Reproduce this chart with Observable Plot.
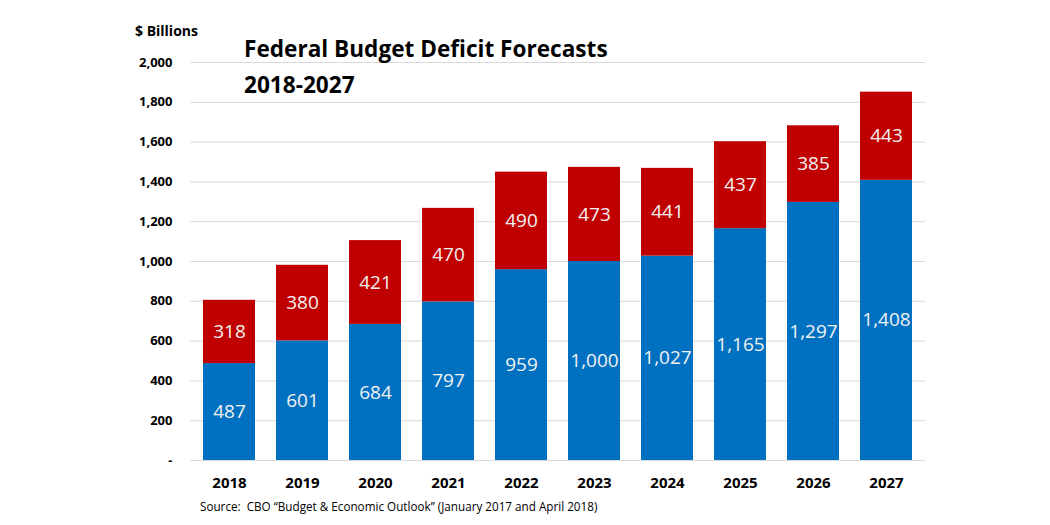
<!DOCTYPE html>
<html><head><meta charset="utf-8">
<script src="https://cdn.jsdelivr.net/npm/d3@7"></script>
<script src="https://cdn.jsdelivr.net/npm/@observablehq/plot@0.6"></script>
<style>
body{margin:0;background:#fff;font-family:"Open Sans",sans-serif;}
#wrap{position:relative;width:1050px;height:525px;}
.ov{position:absolute;color:#000;white-space:nowrap;}
</style></head><body>
<div id="wrap"></div>
<script>
const years = ["2018","2019","2020","2021","2022","2023","2024","2025","2026","2027"];
const baseline = [487,601,684,797,959,1000,1027,1165,1297,1408];
const increase = [318,380,421,470,490,473,441,437,385,443];
const seriesNames = ["Jan 2017 forecast","Increase by Apr 2018"];
const seriesColors = ["#0070C0","#C00000"];
const yTicks = [0,200,400,600,800,1000,1200,1400,1600,1800,2000];

const data = [];
years.forEach((yr,i)=>{
  data.push({year:yr, series:seriesNames[0], value:baseline[i]});
  data.push({year:yr, series:seriesNames[1], value:increase[i]});
});
const fmt = d3.format(",");

const chart = Plot.plot({
  width:1050, height:525,
  marginLeft:180, marginRight:115, marginTop:62, marginBottom:65,
  style:{fontFamily:"'Open Sans',sans-serif", background:"#fff"},
  x:{domain:years, padding:0.29, label:null},
  y:{domain:[0,2000], label:null},
  color:{domain:seriesNames, range:seriesColors},
  marks:[
    Plot.ruleY(yTicks,{stroke:"#d9d9d9", insetLeft:10, insetRight:10}),
    Plot.barY(data,{x:"year", y:"value", fill:"series", order:seriesNames}),
    Plot.text(data, Plot.stackY({x:"year", y:"value", z:"series", order:seriesNames, text:d=>fmt(d.value), fill:"#f2f2f2", fontSize:19})),
    Plot.axisX({tickSize:0, tickPadding:17, fontSize:15, fontWeight:"bold"}),
    Plot.axisY({ticks:yTicks, tickSize:0, tickPadding:8, fontSize:13, fontWeight:"bold", tickFormat:d=>d===0?"-":fmt(d)})
  ],
  axis:null
});
const wrap = document.getElementById("wrap");
wrap.appendChild(chart);
function ov(txt, css){const d=document.createElement("div");d.className="ov";d.textContent=txt;Object.assign(d.style,css);wrap.appendChild(d);}
ov("$ Billions",{left:"135px",top:"21px",fontSize:"14px",fontWeight:"bold"});
ov("Federal Budget Deficit Forecasts",{left:"244px",top:"34px",fontSize:"22.6px",fontWeight:"bold",lineHeight:"30px"});
ov("2018-2027",{left:"244px",top:"70px",fontSize:"22.6px",fontWeight:"bold",lineHeight:"30px"});
ov("Source:  CBO \u201cBudget & Economic Outlook\u201d (January 2017 and April 2018)",{left:"200px",top:"498px",fontSize:"11.7px",whiteSpace:"pre"});
</script>
</body></html>
